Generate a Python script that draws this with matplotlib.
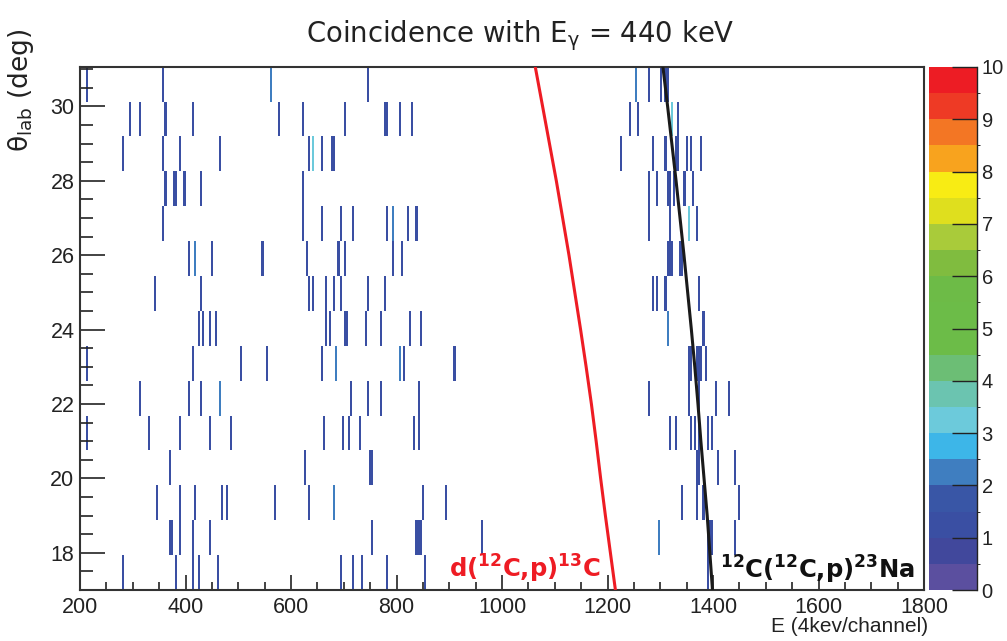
import numpy as np
import matplotlib
matplotlib.use("Agg")
import matplotlib.pyplot as plt
from matplotlib.colors import ListedColormap, BoundaryNorm

plt.rcParams['font.family'] = ['Liberation Sans', 'DejaVu Sans']
plt.rcParams['mathtext.default'] = 'regular'

# ---------------- data ----------------
# histogram binning (E channels of 4 units, 15 theta strips)
e_edges = np.arange(200, 1804, 4)
theta_edges = np.linspace(17.0, 31.07, 16)

# hits per theta strip (bottom strip first); repeated value = count > 1
r00 = [282, 382, 412, 426, 462, 694, 719, 734, 782, 854, 1390]
r01 = [370, 374, 390, 412, 446, 754, 838, 842, 846, 962, 1298, 1298, 1388, 1392, 1396, 1440]
r02 = [346, 390, 418, 470, 478, 570, 634, 682, 682, 850, 894, 1340, 1370, 1382, 1448]
r03 = [370, 626, 750, 754, 1370, 1374, 1410, 1440]
r04 = [215, 328, 388, 446, 484, 662, 698, 710, 730, 834, 842, 1316, 1330, 1356, 1364, 1374, 1390, 1396]
r05 = [314, 406, 430, 466, 466, 714, 747, 770, 842, 1278, 1354, 1374, 1406, 1430]
r06 = [215, 412, 506, 554, 658, 686, 686, 806, 806, 814, 910, 1354, 1358, 1368, 1372, 1376, 1384]
r07 = [424, 434, 444, 458, 666, 674, 700, 706, 743, 770, 826, 846, 1313, 1313, 1382]
r08 = [342, 430, 634, 642, 666, 682, 694, 747, 778, 1286, 1294, 1308, 1374]
r09 = [406, 418, 418, 450, 546, 630, 690, 702, 794, 810, 1312, 1316, 1320, 1338, 1342]
r10 = [358, 622, 658, 694, 719, 782, 794, 794, 822, 838, 1278, 1316, 1354, 1354, 1354, 1370]
r11 = [362, 378, 382, 398, 430, 622, 1278, 1294, 1312, 1316, 1324, 1344, 1362]
r12 = [282, 358, 388, 466, 632, 642, 642, 642, 658, 678, 682, 1224, 1284, 1308, 1330, 1334, 1348, 1356, 1376]
r13 = [292, 314, 362, 414, 578, 622, 700, 777, 782, 805, 831, 1240, 1258, 1322, 1322, 1322, 1334]
r14 = [215, 356, 562, 562, 747, 1252, 1252, 1278, 1300, 1310, 1314]

# kinematic lines (theta in deg, E in channel units)
red_theta = [31.07, 30, 29, 28, 27, 26, 25, 24, 23, 22, 21, 20, 19, 18, 17]
red_E = [1063, 1077, 1090, 1103, 1115, 1127, 1138, 1149, 1159.5, 1169.5, 1178.5, 1187, 1196, 1205.5, 1215]
blk_theta = [31.07, 30, 29, 28, 27, 26, 25, 24, 23, 22, 21, 20, 19, 18, 17]
blk_E = [1305, 1314, 1322, 1330, 1337.5, 1345, 1352, 1359, 1365.5, 1371.5, 1377, 1383, 1389, 1394, 1399]

palette = ['#5b4f9f', '#41489c', '#3a4fa3', '#3956a6', '#3f7ec0', '#3db6e8', '#6ccadb',
           '#6bc4b0', '#6cbe75', '#6cbc48', '#6cbc48', '#6dbb47', '#80bc3f', '#a9cb3a',
           '#dfdf1e', '#f8ec14', '#f8a31e', '#f37624', '#ee3a25', '#ed1c24']
levels = np.linspace(0, 10, 21)
cbar_ticks = list(range(0, 11))

# ---------------- build histogram ----------------
rows = [r00, r01, r02, r03, r04, r05, r06, r07, r08, r09, r10, r11, r12, r13, r14]
theta_centers = 0.5 * (theta_edges[:-1] + theta_edges[1:])
E_all, T_all = [], []
for i, r in enumerate(rows):
    E_all += r
    T_all += [theta_centers[i]] * len(r)
H, xe, ye = np.histogram2d(E_all, T_all, bins=[e_edges, theta_edges])
Hm = np.ma.masked_equal(H.T, 0)

cmap = ListedColormap(palette)
norm = BoundaryNorm(levels, cmap.N)

# ---------------- figure ----------------
W, Hpx = 1007, 641
fig = plt.figure(figsize=(W / 100, Hpx / 100), dpi=100)
ax = fig.add_axes([80 / W, 1 - 590 / Hpx, 844 / W, (590 - 66.7) / Hpx])
cax = fig.add_axes([929 / W, 1 - 590 / Hpx, 47.7 / W, (590 - 67) / Hpx])

mesh = ax.pcolormesh(xe, ye, Hm, cmap=cmap, norm=norm)
ax.plot(red_E, red_theta, color='#ee1c24', lw=2.2, zorder=3)
ax.plot(blk_E, blk_theta, color='#1a1a1a', lw=2.2, zorder=3)

ax.set_xlim(200, 1800)
ax.set_ylim(17.0, 31.07)
ax.set_xticks(np.arange(200, 1801, 200))
ax.set_xticks(np.arange(200, 1801, 50), minor=True)
ax.set_yticks(np.arange(18, 31, 2))
ax.set_yticks(np.arange(17, 31.1, 0.5), minor=True)
ax.tick_params(axis='both', which='both', direction='in', colors='#222222', top=False, right=False)
ax.tick_params(axis='x', which='major', length=11, width=1.2, labelsize=15.5, pad=5)
ax.tick_params(axis='x', which='minor', length=6, width=1.2)
ax.tick_params(axis='y', which='major', length=18, width=1.2, labelsize=15.5, pad=4)
ax.tick_params(axis='y', which='minor', length=9, width=1.2)
for s in ax.spines.values():
    s.set_linewidth(1.5)
    s.set_color('#333333')

ax.text(899, 17.33, r'd($^{12}$C,p)$^{13}$C', color='#ee1c24', fontsize=17.5,
        family=['DejaVu Sans'], fontweight='bold', ha='left', va='baseline')
ax.text(1413, 17.3, r'$^{12}$C($^{12}$C,p)$^{23}$Na', color='#111111', fontsize=17.5,
        family=['DejaVu Sans'], fontweight='bold', ha='left', va='baseline')

cb = fig.colorbar(mesh, cax=cax, ticks=cbar_ticks)
cb.outline.set_visible(False)
cax.tick_params(direction='in', length=18, width=1.0, labelsize=14.5, pad=3.5, colors='#222222')
cax.plot([1, 1], [0, 1], transform=cax.transAxes, color='#222222', lw=1, clip_on=False)

fig.text(520 / W, 1 - 41.7 / Hpx, r'Coincidence with E$_{γ}$ = 440 keV', ha='center',
         va='baseline', fontsize=19.8, family=['DejaVu Sans'], color='#222222')
fig.text(928 / W, 1 - 627 / Hpx, 'E (4kev/channel)', ha='right', va='center',
         fontsize=15, color='#222222')
fig.text(21 / W, 1 - 28 / Hpx, r'θ$_{lab}$ (deg)', rotation=90, ha='center', va='top',
         fontsize=19, family=['DejaVu Sans'], color='#222222')

fig.savefig('out.png', dpi=100)
